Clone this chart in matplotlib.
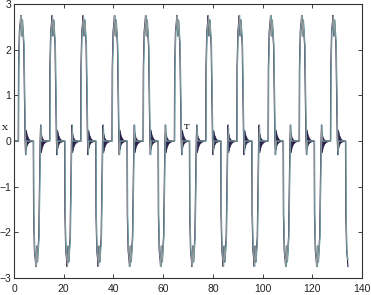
import numpy as np
import matplotlib
matplotlib.use("Agg")
import matplotlib.pyplot as plt

# start time of each cycle (rise from 0)
cycle_starts = [1.8, 14.4, 26.9, 39.5, 52.0, 64.6, 77.2, 89.7, 102.3, 114.8, 127.4]
t_end = 134.4

# one cycle of the trace, time relative to cycle start
cycle_dt = [0.0, 0.12, 0.45, 0.8, 1.0, 1.3, 1.6, 2.2, 2.75, 2.95, 3.15,
            6.05, 6.17, 6.5, 6.85, 7.05, 7.35, 7.65, 8.25, 8.8, 9.0, 9.2, 12.56]
cycle_x = [0.0, 1.6, 2.4, 2.6, 2.75, 2.3, 2.65, 2.1, 0.0, -0.3, 0.0,
           0.0, -1.6, -2.4, -2.6, -2.75, -2.3, -2.65, -2.1, 0.0, 0.35, 0.0, 0.0]

# damped ringing envelopes after each return to zero (relative time, upper, lower)
ring_dt = [0.0, 0.4, 1.0, 1.7, 2.6]
ring_up = [0.25, 0.14, 0.06, 0.02, 0.0]
ring_lo = [-0.18, -0.08, -0.03, -0.01, 0.0]
ring_offsets = [2.95, 9.0]
ring_signs = [1, -1]

xticks = [0, 20, 40, 60, 80, 100, 120, 140]
yticks = [-3, -2, -1, 0, 1, 2, 3]

W, H = 371, 295
fig = plt.figure(figsize=(W / 100, H / 100), dpi=100)
ax = fig.add_axes([14 / W, 1 - 278 / H, (362 - 14) / W, (278 - 4) / H])


def build(shift):
    ts = [0.0]
    xs = [0.0]
    for s in cycle_starts:
        for d, v in zip(cycle_dt, cycle_x):
            ts.append(s + d + shift)
            xs.append(v)
    ts = np.array(ts)
    xs = np.array(xs)
    m = ts <= t_end
    return ts[m], xs[m]


t1, x1 = build(0.0)
t2, x2 = build(0.12)
t3, x3 = build(-0.1)

ax.plot(t3, x3, color="#2a2048", lw=0.8)
ax.plot(t2, x2, color="#2e8f98", lw=0.6)
ax.plot(t1, x1, color="#9a9a9a", lw=0.6)

# ringing triangles
for s in cycle_starts:
    for off, sg in zip(ring_offsets, ring_signs):
        tt = np.array(ring_dt) + s + off
        if tt[0] > t_end:
            continue
        up = np.array(ring_up) * sg
        lo = np.array(ring_lo) * sg
        ax.fill_between(tt, lo, up, color="#2a2048", lw=0.5, edgecolor="#2a2048")

ax.set_xlim(0, 140)
ax.set_ylim(-3, 3)
ax.set_xticks(xticks)
ax.set_yticks(yticks)
ax.tick_params(direction="in", top=True, right=True, length=3, width=0.6,
               labelsize=7.5, colors="#222222")
ax.tick_params(axis="y", pad=2)
ax.tick_params(axis="x", pad=4)
for lab in ax.get_xticklabels() + ax.get_yticklabels():
    lab.set_family("Liberation Sans")
for sp in ax.spines.values():
    sp.set_linewidth(0.8)
    sp.set_color("#333333")

fig.text(5 / W, 1 - 128 / H, "X", family="DejaVu Serif", fontsize=6, ha="center", va="center")
fig.text(187 / W, 1 - 127 / H, "T", family="DejaVu Serif", fontsize=6, ha="center", va="center")

fig.savefig("out.png", dpi=100)
